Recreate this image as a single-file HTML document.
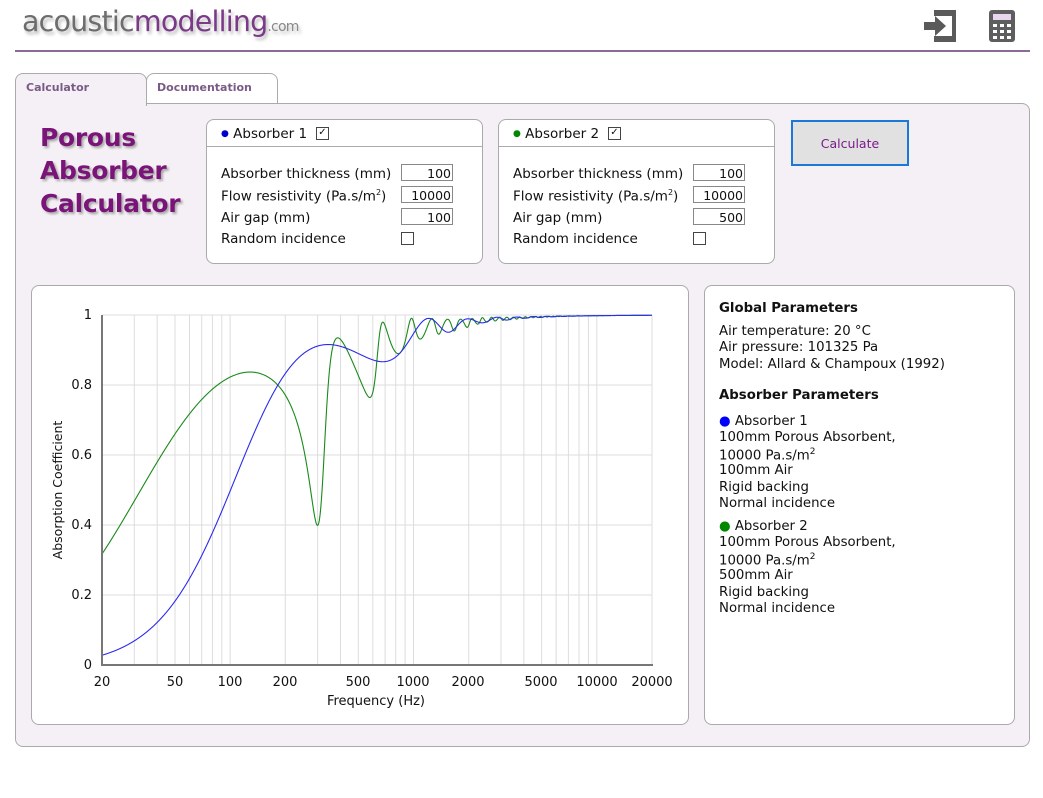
<!DOCTYPE html>
<html><head><meta charset="utf-8">
<style>
body{margin:0;width:1043px;height:798px;background:#fff;position:relative;font-family:"DejaVu Sans","Liberation Sans",sans-serif;font-size:13px;color:#111;overflow:hidden}
.a{position:absolute}
.box{position:absolute;background:#fff;border:1px solid #aaa;border-radius:8px}
.inp{position:absolute;height:17px;border:1px solid #888;text-align:right;line-height:17px;font-size:12.5px;box-sizing:border-box;padding-right:1px;width:52px;background:#fff}
.cb{position:absolute;width:11px;height:11px;border:1px solid #444;background:#fff}
.lbl{position:absolute;white-space:nowrap;font-size:13.5px}
.title{position:absolute;left:40px;font-weight:bold;font-size:25px;color:#7a1478;text-shadow:2px 2px 2px #aaa;font-family:"DejaVu Sans",sans-serif;letter-spacing:-0.3px}
.p div{height:16.5px;white-space:nowrap;font-size:13.3px}
</style></head><body>
<div class="a" style="left:22px;top:5px;font-size:28.5px;white-space:nowrap;text-shadow:2px 3px 3px #bbb;letter-spacing:-0.8px"><span style="color:#6d6d6d">acoustic</span><span style="color:#7b3a88">modelling</span><span style="color:#888;font-size:14px">.com</span></div>
<div class="a" style="left:15px;top:50px;width:1015px;height:2px;background:#8a6a96"></div>
<svg class="a" style="left:922px;top:9px" width="36" height="34" viewBox="0 0 36 34"><path d="M12 1H34V33H12V27H30V7H12Z" fill="#5a5a5a"/><path d="M2 13H13V7L24 17L13 27V21H2Z" fill="#5a5a5a"/></svg>
<svg class="a" style="left:989px;top:10px" width="26" height="32"><rect x="0" y="0" width="26" height="32" rx="3" fill="#5e5e5e"/><rect x="4" y="4" width="18" height="6" fill="#e8d6ee"/><g fill="#fff"><rect x="4" y="14" width="4" height="3"/><rect x="11" y="14" width="4" height="3"/><rect x="18" y="14" width="4" height="3"/><rect x="4" y="20" width="4" height="3"/><rect x="11" y="20" width="4" height="3"/><rect x="18" y="20" width="4" height="3"/><rect x="4" y="26" width="4" height="3"/><rect x="11" y="26" width="4" height="3"/><rect x="18" y="26" width="4" height="3"/></g></svg>
<div class="a" style="left:146px;top:73px;width:130px;height:32px;border:1px solid #aaa;border-radius:8px 8px 0 0;background:#fff"></div>
<div class="a" style="left:15px;top:103px;width:1013px;height:642px;border:1px solid #aaa;border-radius:0 8px 8px 8px;background:#f4f0f5"></div>
<div class="a" style="left:15px;top:73px;width:130px;height:32px;border:1px solid #aaa;border-bottom:none;border-radius:8px 8px 0 0;background:#f4f0f5"></div>
<div class="lbl" style="left:26px;top:81px;font-size:11px;font-weight:bold;color:#7a5a86">Calculator</div>
<div class="lbl" style="left:157px;top:81px;font-size:11px;font-weight:bold;color:#7a5a86">Documentation</div>
<div class="title" style="top:123px">Porous</div>
<div class="title" style="top:156px">Absorber</div>
<div class="title" style="top:189px">Calculator</div>

<div class="box" style="left:206px;top:119px;width:275px;height:143px"></div>
<div class="a" style="left:207px;top:146px;width:275px;height:1px;background:#aaa"></div>
<div class="lbl" style="left:221px;top:126px"><span style="color:#00c;font-size:9px;vertical-align:2px">●</span> Absorber 1</div>
<div class="cb" style="left:316px;top:127px;font-size:10px;line-height:10px;text-align:center">✓</div>
<div class="lbl" style="left:221px;top:166px">Absorber thickness (mm)</div>
<div class="lbl" style="left:221px;top:188px">Flow resistivity (Pa.s/m<sup style="font-size:8px">2</sup>)</div>
<div class="lbl" style="left:221px;top:210px">Air gap (mm)</div>
<div class="lbl" style="left:221px;top:231px">Random incidence</div>
<div class="inp" style="left:401px;top:164px">100</div>
<div class="inp" style="left:401px;top:186px">10000</div>
<div class="inp" style="left:401px;top:208px">100</div>
<div class="cb" style="left:401px;top:232px"></div>

<div class="box" style="left:498px;top:119px;width:275px;height:143px"></div>
<div class="a" style="left:499px;top:146px;width:275px;height:1px;background:#aaa"></div>
<div class="lbl" style="left:513px;top:126px"><span style="color:#080;font-size:9px;vertical-align:2px">●</span> Absorber 2</div>
<div class="cb" style="left:608px;top:127px;font-size:10px;line-height:10px;text-align:center">✓</div>
<div class="lbl" style="left:513px;top:166px">Absorber thickness (mm)</div>
<div class="lbl" style="left:513px;top:188px">Flow resistivity (Pa.s/m<sup style="font-size:8px">2</sup>)</div>
<div class="lbl" style="left:513px;top:210px">Air gap (mm)</div>
<div class="lbl" style="left:513px;top:231px">Random incidence</div>
<div class="inp" style="left:693px;top:164px">100</div>
<div class="inp" style="left:693px;top:186px">10000</div>
<div class="inp" style="left:693px;top:208px">500</div>
<div class="cb" style="left:693px;top:232px"></div>

<div class="a" style="left:791px;top:120px;width:114px;height:42px;border:2px solid #1a78d6;background:#e1e1e1;text-align:center;line-height:44px;color:#7a1a8a;font-size:12.5px">Calculate</div>

<div class="box" style="left:31px;top:285px;width:656px;height:438px"></div>
<div class="box" style="left:704px;top:285px;width:309px;height:438px"></div>
<div class="a p" style="left:719px;top:301px">
<div style="font-weight:bold">Global Parameters</div>
<div style="margin-top:6px">Air temperature: 20 °C</div><div>Air pressure: 101325 Pa</div><div>Model: Allard &amp; Champoux (1992)</div>
<div style="font-weight:bold;margin-top:15px">Absorber Parameters</div>
<div style="margin-top:9px"><span style="color:#00f">●</span> Absorber 1</div><div>100mm Porous Absorbent,</div><div>10000 Pa.s/m<sup style="font-size:9px">2</sup></div><div>100mm Air</div><div>Rigid backing</div><div>Normal incidence</div>
<div style="margin-top:6px"><span style="color:#080">●</span> Absorber 2</div><div>100mm Porous Absorbent,</div><div>10000 Pa.s/m<sup style="font-size:9px">2</sup></div><div>500mm Air</div><div>Rigid backing</div><div>Normal incidence</div>
</div>

<svg id="ch" class="a" style="left:0;top:0" width="1043" height="798" font-family="DejaVu Sans, sans-serif" font-size="13">
<g id="grid" stroke="#ddd" stroke-width="1"></g>
<g fill="#111" text-anchor="end">
<text x="92" y="319">1</text><text x="92" y="389">0.8</text><text x="92" y="459">0.6</text><text x="92" y="529">0.4</text><text x="92" y="599">0.2</text><text x="92" y="669">0</text>
</g>
<g fill="#111" text-anchor="middle">
<text x="102" y="686">20</text><text x="175" y="686">50</text><text x="230" y="686">100</text><text x="285" y="686">200</text><text x="358" y="686">500</text><text x="413" y="686">1000</text><text x="468" y="686">2000</text><text x="541" y="686">5000</text><text x="597" y="686">10000</text><text x="652" y="686">20000</text>
<text x="376" y="705">Frequency (Hz)</text>
</g>
<text transform="translate(62,490) rotate(-90)" text-anchor="middle" font-size="12.5" fill="#111">Absorption Coefficient</text>
<path id="g2" fill="none" stroke="#1a8a1a" stroke-width="1.1"/>
<path id="g1" fill="none" stroke="#2a2af0" stroke-width="1.1"/>
<path d="M102 315V665H653" fill="none" stroke="#777" stroke-width="2"/>
</svg>
<script>
var X0=102,X1=652,Y0=665,Y1=315,L=Math.log10(1000);
function xf(f){return X0+(Math.log10(f/20))/L*(X1-X0)}
function yf(a){return Y0-a*(Y0-Y1)}
var g='';
for(var d=1;d<=4;d++)for(var m=1;m<10;m++){var f=m*Math.pow(10,d);if(f<=20||f>20000)continue;var x=xf(f).toFixed(1);g+='<line x1="'+x+'" y1="315" x2="'+x+'" y2="665"/>';}
g+='<line x1="652" y1="315" x2="652" y2="665"/>';
for(var i=1;i<=5;i++){var y=yf(i*0.2);g+='<line x1="102" y1="'+y+'" x2="652" y2="'+y+'"/>';}
document.getElementById('grid').innerHTML=g;
function C(r,i){return{r:r,i:i}}
function add(a,b){return C(a.r+b.r,a.i+b.i)}
function sub(a,b){return C(a.r-b.r,a.i-b.i)}
function mul(a,b){return C(a.r*b.r-a.i*b.i,a.r*b.i+a.i*b.r)}
function div(a,b){var d=b.r*b.r+b.i*b.i;return C((a.r*b.r+a.i*b.i)/d,(a.i*b.r-a.r*b.i)/d)}
function tan(z){var s=C(Math.sin(z.r)*Math.cosh(z.i),Math.cos(z.r)*Math.sinh(z.i));var c=C(Math.cos(z.r)*Math.cosh(z.i),-Math.sin(z.r)*Math.sinh(z.i));return div(s,c)}
var rho=1.204,c0=343.2,Z0=rho*c0,J=C(0,1);
function alpha(f,d,D,sig){var w=2*Math.PI*f,X=rho*f/sig;
var Zc=C(Z0*(1+0.0571*Math.pow(X,-0.754)),-Z0*0.087*Math.pow(X,-0.732));
var kc=C(w/c0*(1+0.0978*Math.pow(X,-0.7)),-w/c0*0.189*Math.pow(X,-0.595));
var k0=w/c0;var Zb=C(0,-Z0/Math.tan(k0*D));
var t=tan(mul(kc,C(d,0)));
var Z=mul(Zc,div(add(Zb,mul(J,mul(Zc,t))),add(Zc,mul(J,mul(Zb,t)))));
var R=div(sub(Z,C(Z0,0)),add(Z,C(Z0,0)));return 1-(R.r*R.r+R.i*R.i);}
function path(D){var p='';for(var i=0;i<=1600;i++){var f=20*Math.pow(1000,i/1600);var a=alpha(f,0.1,D,10000);p+=(i?'L':'M')+xf(f).toFixed(2)+' '+yf(a).toFixed(2);}return p;}
document.getElementById('g1').setAttribute('d',path(0.1));
document.getElementById('g2').setAttribute('d',path(0.5));
</script>
</body></html>
